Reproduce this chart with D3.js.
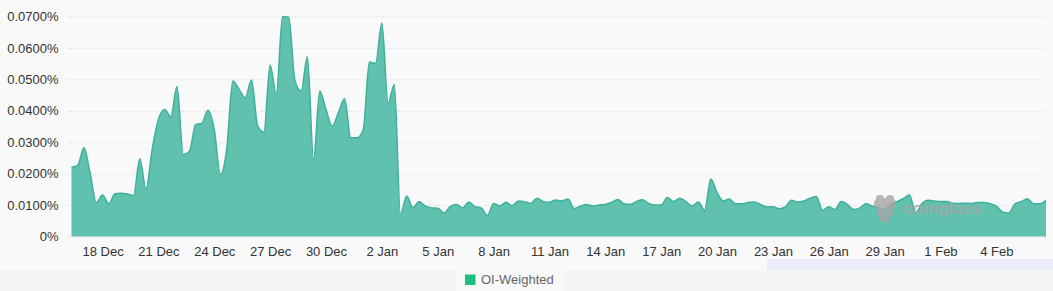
<!DOCTYPE html>
<html>
<head>
<meta charset="utf-8">
<script src="https://cdnjs.cloudflare.com/ajax/libs/d3/7.8.5/d3.min.js"></script>
<style>
	body { margin: 0; background: #f9f9f9; font-family: "Liberation Sans", Arial, sans-serif; }
	#chart svg { display: block; }
</style>
</head>
<body>
<div id="chart"></div>
<script>
// funding rate, % per 8h, first point 16 Dec 08:00 UTC
var start_time = Date.UTC(2023, 11, 16, 8);
var step_hours = 8;
var oi_weighted = [
	0.0220, 0.0226, 0.0282, 0.0202, 0.0108, 0.0132, 0.0104, 0.0136, 0.0138, 0.0135,
	0.0130, 0.0247, 0.0151, 0.0277, 0.0372, 0.0404, 0.0381, 0.0477, 0.0261, 0.0271,
	0.0356, 0.0360, 0.0402, 0.0340, 0.0197, 0.0277, 0.0495, 0.0468, 0.0441, 0.0498,
	0.0351, 0.0332, 0.0546, 0.0452, 0.0700, 0.0698, 0.0495, 0.0463, 0.0572, 0.0243,
	0.0463, 0.0404, 0.0351, 0.0394, 0.0438, 0.0314, 0.0314, 0.0340, 0.0555, 0.0551,
	0.0679, 0.0423, 0.0484, 0.0071, 0.0129, 0.0092, 0.0111, 0.0097, 0.0091, 0.0090,
	0.0075, 0.0095, 0.0102, 0.0091, 0.0110, 0.0095, 0.0091, 0.0067, 0.0105, 0.0097,
	0.0109, 0.0098, 0.0113, 0.0111, 0.0105, 0.0122, 0.0111, 0.0109, 0.0116, 0.0113,
	0.0119, 0.0089, 0.0097, 0.0102, 0.0097, 0.0100, 0.0102, 0.0108, 0.0118, 0.0104,
	0.0102, 0.0111, 0.0117, 0.0105, 0.0100, 0.0100, 0.0124, 0.0111, 0.0122, 0.0111,
	0.0097, 0.0110, 0.0083, 0.0183, 0.0140, 0.0113, 0.0119, 0.0104, 0.0104, 0.0108,
	0.0110, 0.0102, 0.0094, 0.0095, 0.0088, 0.0094, 0.0115, 0.0110, 0.0113, 0.0122,
	0.0127, 0.0083, 0.0095, 0.0086, 0.0111, 0.0102, 0.0086, 0.0091, 0.0104, 0.0097,
	0.0091, 0.0086, 0.0102, 0.0111, 0.0120, 0.0132, 0.0075, 0.0104, 0.0115, 0.0113,
	0.0111, 0.0111, 0.0106, 0.0105, 0.0106, 0.0105, 0.0108, 0.0108, 0.0104, 0.0097,
	0.0078, 0.0075, 0.0104, 0.0111, 0.0120, 0.0104, 0.0104, 0.0115
];
var y_ticks = [0, 0.01, 0.02, 0.03, 0.04, 0.05, 0.06, 0.07];
var y_tick_labels = ["0%", "0.0100%", "0.0200%", "0.0300%", "0.0400%", "0.0500%", "0.0600%", "0.0700%"];
var x_tick_dates = ["2023-12-18", "2023-12-21", "2023-12-24", "2023-12-27", "2023-12-30",
	"2024-01-02", "2024-01-05", "2024-01-08", "2024-01-11", "2024-01-14", "2024-01-17",
	"2024-01-20", "2024-01-23", "2024-01-26", "2024-01-29", "2024-02-01", "2024-02-04"];
var series_name = "OI-Weighted";

function drawChart()
{
	var width = 1053, height = 291;
	var left = 71.5, right = 1046, top = 16.5, bottom = 236.5;

	var data = oi_weighted.map(function(v, i) {
		return {t: new Date(start_time + i * step_hours * 3600000), v: v};
	});

	var x = d3.scaleUtc()
		.domain(d3.extent(data, function(d) { return d.t; }))
		.range([left, right]);

	var y = d3.scaleLinear()
		.domain([0, 0.07])
		.range([bottom, top]);

	var svg = d3.select("#chart")
		.append("svg")
		.attr("width", width)
		.attr("height", height);

	// lower band behind axis labels / legend
	svg.append("rect")
		.attr("x", 0).attr("y", 270)
		.attr("width", width).attr("height", 21)
		.attr("fill", "#f4f4f4");
	svg.append("rect")
		.attr("x", 767).attr("y", 259)
		.attr("width", 286).attr("height", 11)
		.attr("fill", "#e9ecf8");
	svg.append("rect")
		.attr("x", 456).attr("y", 270)
		.attr("width", 108).attr("height", 21)
		.attr("fill", "#f8f8f8");

	/**  grid + y labels  **/
	var yAxis = d3.axisLeft(y)
		.tickValues(y_ticks)
		.tickSize(-(right - left + 4))
		.tickPadding(9)
		.tickFormat(function(d, i) { return y_tick_labels[i]; });

	var gy = svg.append("g")
		.attr("transform", "translate(" + (left - 4) + ",0)")
		.call(yAxis);
	gy.select(".domain").remove();
	gy.selectAll("line")
		.attr("stroke", "#e6e6e6")
		.attr("stroke-dasharray", "5,3");
	gy.selectAll("text")
		.attr("fill", "#333")
		.style("font-size", "13px")
		.style("font-family", "Liberation Sans, Arial, sans-serif");

	/**  area  **/
	var area = d3.area()
		.curve(d3.curveMonotoneX)
		.x(function(d) { return x(d.t); })
		.y0(y(0))
		.y1(function(d) { return y(d.v); });

	var line = d3.line()
		.curve(d3.curveMonotoneX)
		.x(function(d) { return x(d.t); })
		.y(function(d) { return y(d.v); });

	svg.append("path")
		.datum(data)
		.attr("d", area)
		.attr("fill", "#5fc1ae");

	svg.append("path")
		.datum(data)
		.attr("d", line)
		.attr("fill", "none")
		.attr("stroke", "#3fb09a")
		.attr("stroke-width", 1.5);

	/**  x labels  **/
	var xAxis = d3.axisBottom(x)
		.tickValues(x_tick_dates.map(function(s) { return new Date(s + "T00:00:00Z"); }))
		.tickSize(0)
		.tickPadding(10)
		.tickFormat(d3.utcFormat("%-d %b"));

	var gx = svg.append("g")
		.attr("transform", "translate(0," + bottom + ")")
		.call(xAxis);
	gx.select(".domain").remove();
	gx.selectAll("text")
		.attr("fill", "#333")
		.style("font-size", "13px")
		.style("font-family", "Liberation Sans, Arial, sans-serif");

	/**  watermark  **/
	var wm = svg.append("g").attr("opacity", 0.8).attr("fill", "#a6a6a6");
	wm.append("ellipse").attr("cx", 880).attr("cy", 198).attr("rx", 4).attr("ry", 3);
	wm.append("ellipse").attr("cx", 890).attr("cy", 198).attr("rx", 4).attr("ry", 3);
	wm.append("rect").attr("x", 874).attr("y", 198).attr("width", 22).attr("height", 12).attr("rx", 5);
	wm.append("rect").attr("x", 877).attr("y", 208).attr("width", 16).attr("height", 9).attr("rx", 4);
	wm.append("rect").attr("x", 880).attr("y", 215).attr("width", 10).attr("height", 7).attr("rx", 3);
	wm.append("text")
		.attr("x", 903).attr("y", 214)
		.style("font-size", "17px")
		.style("font-weight", "bold")
		.style("font-family", "Liberation Sans, Arial, sans-serif")
		.text("coinglass");

	/**  legend  **/
	svg.append("rect")
		.attr("x", 465).attr("y", 274.5)
		.attr("width", 10.5).attr("height", 10.5)
		.attr("fill", "#1dbf7e");
	svg.append("text")
		.attr("x", 481).attr("y", 283.5)
		.attr("fill", "#666")
		.style("font-size", "13px")
		.style("font-family", "Liberation Sans, Arial, sans-serif")
		.text(series_name);
}

drawChart();
</script>
</body>
</html>
